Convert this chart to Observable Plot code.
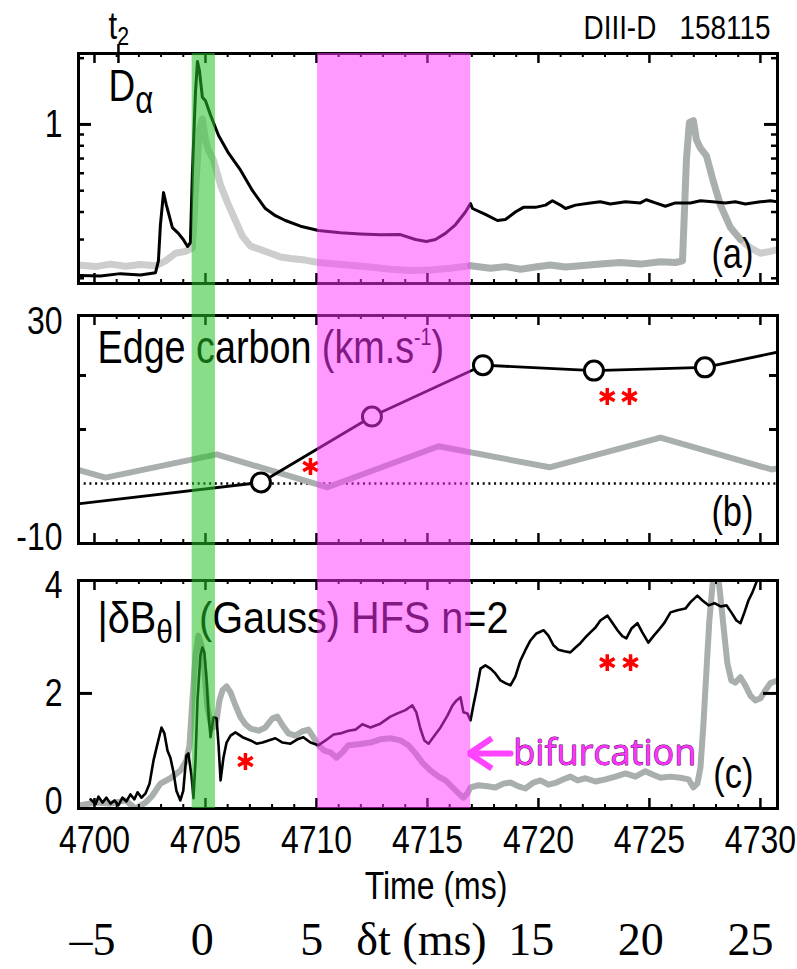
<!DOCTYPE html>
<html><head><meta charset="utf-8">
<script src="https://cdn.jsdelivr.net/npm/d3@7"></script>
<script src="https://cdn.jsdelivr.net/npm/@observablehq/plot@0.6"></script>
<style>
body{margin:0;background:#fff}
#fig{position:relative;width:797px;height:969px;background:#fff;overflow:hidden}
#fig svg{position:absolute;left:0;max-width:none;overflow:visible}
</style></head><body><div id="fig"></div>
<script>
// ---------- shared x ----------
const X_DOMAIN = [4699.28, 4730.77];
const timeTicks = [4700, 4705, 4710, 4715, 4720, 4725, 4730];
const dtTicks = [-5, 0, 5, 10, 15, 20, 25];
const dtLabels = ["\u20135", "0", "5", "\u03b4t (ms)", "15", "20", "25"];

// ---------- highlighted windows ----------
const bandStart = [4704.40, 4710.05];
const bandEnd = [4705.45, 4716.95];

// ---------- panel (a): D-alpha (log) ----------
const daT = [4699.37,4700.27,4701.17,4702.07,4702.75,4702.88,4702.97,4703.11,4703.24,4703.51,4703.78,4704.0,4704.19,4704.32,4704.41,4704.55,4704.64,4704.73,4704.86,4705.0,4705.23,4705.59,4706.04,4706.58,4707.12,4707.7,4708.15,4708.6,4709.28,4710.09,4711.08,4711.98,4712.88,4713.78,4714.46,4714.95,4715.36,4715.81,4716.26,4716.71,4716.94,4717.03,4717.61,4718.15,4718.51,4718.96,4719.32,4719.86,4720.32,4720.63,4720.99,4721.22,4721.67,4722.34,4722.79,4723.24,4723.92,4724.59,4724.86,4725.27,4725.72,4726.17,4726.85,4727.3,4727.84,4728.42,4728.87,4729.32,4730.0,4730.45,4730.77];
const daV = [0.206,0.205,0.21,0.207,0.212,0.24,0.35,0.49,0.43,0.34,0.32,0.30,0.279,0.29,0.6,1.4,1.93,1.75,1.33,1.28,1.1,0.89,0.74,0.62,0.5,0.415,0.385,0.366,0.345,0.33,0.322,0.318,0.315,0.316,0.30,0.294,0.30,0.32,0.35,0.40,0.437,0.415,0.39,0.366,0.37,0.40,0.42,0.42,0.43,0.45,0.43,0.415,0.43,0.44,0.445,0.435,0.445,0.44,0.455,0.44,0.425,0.44,0.44,0.45,0.445,0.44,0.445,0.435,0.445,0.45,0.445];
const daRefT = [4699.37,4700.05,4700.72,4701.4,4702.07,4702.75,4703.2,4703.65,4704.1,4704.41,4704.6,4704.73,4704.86,4705.0,4705.14,4705.36,4705.68,4706.04,4706.35,4706.67,4707.03,4707.48,4707.93,4708.38,4708.83,4709.5,4710.09,4710.86,4711.53,4712.43,4713.33,4714.23,4715.14,4716.04,4716.94,4717.84,4718.51,4719.19,4719.86,4720.54,4721.22,4721.89,4722.79,4723.69,4724.59,4725.5,4726.17,4726.49,4726.67,4726.8,4726.98,4727.12,4727.3,4727.57,4727.88,4728.2,4728.65,4729.1,4729.55,4730.0,4730.45,4730.77];
const daRefV = [0.229,0.226,0.232,0.227,0.231,0.228,0.24,0.26,0.265,0.275,0.6,0.95,1.06,0.85,0.76,0.69,0.53,0.43,0.366,0.31,0.28,0.27,0.26,0.25,0.246,0.242,0.236,0.232,0.229,0.225,0.22,0.217,0.218,0.222,0.228,0.222,0.226,0.22,0.225,0.23,0.225,0.228,0.232,0.236,0.232,0.238,0.236,0.24,0.7,1.02,1.04,0.85,0.78,0.72,0.55,0.43,0.34,0.30,0.275,0.26,0.265,0.27];
const daRefDarkFrom = 4716.94, daRefDarkTo = 4729.1;

// ---------- panel (b): edge carbon rotation ----------
const carbonT = [4697.5, 4707.5, 4712.5, 4717.5, 4722.5, 4727.5, 4732.5];
const carbonV = [-4.6, 0.2, 12.4, 21.9, 20.9, 21.5, 25.8];
const carbonRefT = [4695.5, 4700.5, 4705.5, 4710.5, 4715.5, 4720.5, 4725.5, 4730.5, 4735.5];
const carbonRefV = [6.9, 1.1, 5.4, -0.7, 6.9, 3.0, 8.5, 2.6, 6.0];
const starBT = [4709.73, 4723.1, 4724.1];
const starBV = [3.15, 16.1, 16.1];

// ---------- panel (c): |dB_theta| ----------
const dbT = [4699.82,4700.05,4700.18,4700.36,4700.54,4700.72,4700.9,4701.08,4701.26,4701.44,4701.62,4701.8,4701.94,4702.12,4702.3,4702.48,4702.66,4702.84,4703.02,4703.15,4703.29,4703.42,4703.56,4703.69,4703.87,4704.0,4704.14,4704.23,4704.37,4704.46,4704.55,4704.64,4704.77,4704.86,4704.95,4705.05,4705.14,4705.23,4705.36,4705.5,4705.59,4705.68,4705.81,4705.95,4706.13,4706.35,4706.67,4707.03,4707.3,4707.57,4707.84,4708.15,4708.47,4708.83,4709.14,4709.41,4709.73,4710.09,4710.41,4710.77,4711.08,4711.44,4711.76,4712.07,4712.43,4712.88,4713.33,4713.65,4714.01,4714.32,4714.5,4714.68,4714.86,4715.05,4715.32,4715.59,4715.9,4716.13,4716.31,4716.49,4716.62,4716.8,4716.94,4717.07,4717.21,4717.39,4717.61,4717.84,4718.06,4718.29,4718.51,4718.74,4718.96,4719.19,4719.41,4719.64,4719.91,4720.23,4720.45,4720.68,4720.9,4721.17,4721.44,4721.67,4721.89,4722.12,4722.34,4722.57,4722.79,4723.11,4723.33,4723.56,4723.78,4723.96,4724.19,4724.46,4724.68,4724.95,4725.18,4725.41,4725.68,4725.95,4726.26,4726.62,4726.85,4727.16,4727.39,4727.66,4727.93,4728.2,4728.47,4728.69,4728.92,4729.1,4729.28,4729.46,4729.64,4729.82,4730.0,4730.45];
const dbV = [0.04,-0.05,0.09,-0.02,0.07,-0.04,0.02,-0.07,0.07,0.0,0.13,0.04,0.17,0.07,0.15,0.33,0.76,1.07,1.37,1.26,0.94,0.81,0.54,0.2,0.02,0.2,0.85,0.89,0.48,0.06,0.76,1.87,2.7,2.85,2.76,2.24,1.6,1.19,1.56,1.54,1.04,0.39,0.81,1.09,1.22,1.28,1.19,1.13,1.07,1.09,1.13,1.17,1.09,1.07,1.15,1.19,1.09,1.04,1.13,1.24,1.26,1.31,1.33,1.43,1.37,1.44,1.57,1.63,1.69,1.78,1.65,1.35,1.13,1.07,1.22,1.37,1.59,1.78,1.87,1.93,1.65,1.63,1.5,1.78,2.06,2.46,2.52,2.46,2.37,2.24,2.19,2.15,2.31,2.61,2.8,2.98,3.11,3.17,3.07,2.89,2.81,2.78,2.76,2.85,2.93,3.04,3.13,3.22,3.35,3.44,3.31,3.17,3.06,3.02,3.2,3.3,3.13,2.94,3.06,3.17,3.31,3.5,3.54,3.57,3.69,3.81,3.72,3.63,3.67,3.61,3.63,3.5,3.35,3.3,3.5,3.72,3.87,4.06,4.2,4.55];
const dbRefT = [4699.37,4700.05,4700.72,4701.4,4701.85,4702.3,4702.61,4702.97,4703.42,4703.87,4704.14,4704.28,4704.41,4704.55,4704.68,4704.82,4704.95,4705.09,4705.23,4705.36,4705.5,4705.63,4705.77,4705.95,4706.13,4706.35,4706.58,4706.8,4707.03,4707.39,4707.7,4708.02,4708.24,4708.47,4708.74,4709.05,4709.37,4709.64,4709.86,4710.09,4710.36,4710.63,4710.9,4711.17,4711.44,4711.89,4712.43,4712.88,4713.33,4713.78,4714.14,4714.46,4714.77,4715.14,4715.5,4715.81,4716.13,4716.4,4716.62,4716.8,4716.94,4717.3,4717.7,4718.06,4718.42,4718.74,4719.1,4719.41,4719.77,4720.09,4720.45,4720.81,4721.13,4721.44,4721.76,4722.12,4722.57,4723.02,4723.47,4723.92,4724.37,4724.82,4725.14,4725.5,4725.95,4726.4,4726.76,4726.98,4727.16,4727.3,4727.43,4727.57,4727.7,4727.84,4727.97,4728.11,4728.24,4728.38,4728.51,4728.69,4728.87,4729.1,4729.32,4729.55,4729.77,4730.0,4730.23,4730.45,4730.77];
const dbRefV = [-0.07,-0.02,-0.04,0.02,-0.13,-0.02,0.11,0.33,0.43,0.57,0.76,1.04,1.87,2.7,3.07,2.89,2.43,1.74,1.46,1.37,1.5,1.87,2.06,2.13,2.02,1.78,1.56,1.43,1.35,1.31,1.37,1.54,1.57,1.41,1.26,1.22,1.3,1.33,1.19,1.04,0.94,0.91,0.81,0.91,1.04,1.06,1.09,1.15,1.17,1.13,1.04,0.89,0.72,0.57,0.46,0.39,0.26,0.15,0.07,0.15,0.26,0.3,0.28,0.26,0.33,0.35,0.28,0.24,0.35,0.39,0.31,0.35,0.41,0.46,0.39,0.43,0.37,0.41,0.46,0.52,0.46,0.56,0.5,0.44,0.46,0.44,0.41,0.26,0.33,0.63,1.41,2.43,3.35,4.0,4.28,4.13,3.63,3.07,2.56,2.24,2.2,2.3,2.15,1.96,1.87,1.91,2.06,2.19,2.24];
const starCT = [4706.8, 4723.1, 4724.15];
const starCV = [0.74, 2.57, 2.57];
// bifurcation arrow (tail -> tip) and its head wings
const arrowShaftT = [4718.74, 4717.0];
const arrowY = 0.89;
const arrowHeadT = [4717.9, 4716.88, 4717.9];
const arrowHeadV = [1.17, 0.89, 0.61];

// ---------- styling ----------
const W = 797, ML = 78, MR = 20;
const NARROW = "Liberation Sans, Arial, sans-serif";   // squeezed to a narrow face below
const NARROW_FACTOR = 0.82;
const SERIF = "'Liberation Serif','Times New Roman',serif";
const LIGHT_GREY = "#cdcdcd", DARK_GREY = "#a9afad";
const STYLE = {background: "none", overflow: "visible"};

const zip = (T, V) => T.map((t, i) => ({t, v: V[i]}));
const inX = d => d.t >= X_DOMAIN[0] && d.t <= X_DOMAIN[1];

function frameTicks(innerW, innerH, yMajor, yMinor, majLen, minLen) {
  const xMaj = timeTicks, xMin = d3.range(4700, 4731).filter(d => d % 5);
  return [
    Plot.tickX(xMaj, {x: d => d, insetBottom: innerH - 10, strokeWidth: 2.5}),
    Plot.tickX(xMaj, {x: d => d, insetTop: innerH - 10, strokeWidth: 2.5}),
    Plot.tickX(xMin, {x: d => d, insetBottom: innerH - 4, strokeWidth: 2}),
    Plot.tickX(xMin, {x: d => d, insetTop: innerH - 4, strokeWidth: 2}),
    Plot.tickY(yMajor, {y: d => d, insetRight: innerW - majLen, strokeWidth: 3}),
    Plot.tickY(yMajor, {y: d => d, insetLeft: innerW - majLen, strokeWidth: 3}),
    Plot.tickY(yMinor, {y: d => d, insetRight: innerW - minLen, strokeWidth: 2.5}),
    Plot.tickY(yMinor, {y: d => d, insetLeft: innerW - minLen, strokeWidth: 2.5}),
    Plot.frame({stroke: "#000", strokeWidth: 3})
  ];
}
function place(svg, top) { svg.style.top = top + "px"; return svg; }
function rich(svg, map) {
  svg.querySelectorAll("text").forEach(el => { const k = el.textContent; if (map[k]) el.innerHTML = map[k]; });
  return svg;
}
const innerW = W - ML - MR;
const fmt = d => String(d);

// ---------- panel a ----------
const daLine = zip(daT, daV);
const daRef = zip(daRefT, daRefV);
const daRefLight1 = daRef.filter(d => d.t <= daRefDarkFrom);
const daRefDark = daRef.filter(d => d.t >= daRefDarkFrom && d.t <= daRefDarkTo);
const daRefLight2 = daRef.filter(d => d.t >= daRefDarkTo);
const pa = Plot.plot({
  width: W, height: 300, marginTop: 53, marginBottom: 17, marginLeft: ML, marginRight: MR,
  x: {domain: X_DOMAIN, axis: null},
  y: {type: "log", domain: [0.1894, 2.10], axis: null},
  style: STYLE,
  marks: [
    Plot.line(daRefLight1, {x: "t", y: "v", stroke: LIGHT_GREY, strokeWidth: 7, clip: true}),
    Plot.line(daRefLight2, {x: "t", y: "v", stroke: LIGHT_GREY, strokeWidth: 7, clip: true}),
    Plot.line(daRefDark, {x: "t", y: "v", stroke: DARK_GREY, strokeWidth: 7, clip: true}),
    Plot.line(daLine, {x: "t", y: "v", stroke: "#000", strokeWidth: 3, clip: true}),
    ...frameTicks(innerW, 230, [1], [0.2,0.3,0.4,0.5,0.6,0.7,0.8,0.9,2], 13, 6),
    Plot.axisY([1], {anchor: "left", tickSize: 0, tickPadding: 16, tickFormat: () => "1", fontSize: 39, fontFamily: NARROW, label: null}),
    Plot.tickX([4701.08], {x: d => d, insetTop: -9, insetBottom: 220, strokeWidth: 2.5}),
    Plot.text(["t2"], {text: d => d, frameAnchor: "top-left", textAnchor: "start", lineAnchor: "bottom", dx: 30, dy: -15, fontSize: 38, fontFamily: NARROW}),
    Plot.text(["D\u03b1"], {text: d => d, frameAnchor: "top-left", textAnchor: "start", lineAnchor: "bottom", dx: 30, dy: 47, fontSize: 45, fontFamily: NARROW}),
    Plot.text(["DIII-D\u00a0\u00a0 158115"], {text: d => d, frameAnchor: "top-right", textAnchor: "end", lineAnchor: "bottom", dx: -7, dy: -15, fontSize: 34, fontFamily: NARROW}),
    Plot.text(["(a)"], {text: d => d, frameAnchor: "bottom-right", textAnchor: "end", lineAnchor: "bottom", dx: -24, dy: -16, fontSize: 42, fontFamily: NARROW})
  ]
});
rich(pa, {
  "t2": 't<tspan dy="6" font-size="26">2</tspan>',
  "D\u03b1": 'D<tspan dy="12" font-size="38">\u03b1</tspan>'
});

// ---------- panel b ----------
const carbon = zip(carbonT, carbonV);
const carbonRef = zip(carbonRefT, carbonRefV);
const pb = Plot.plot({
  width: W, height: 250, marginTop: 15, marginBottom: 7, marginLeft: ML, marginRight: MR,
  x: {domain: X_DOMAIN, axis: null},
  y: {domain: [-11.1, 31.1], axis: null},
  style: STYLE,
  marks: [
    Plot.ruleY([0], {stroke: "#000", strokeWidth: 2.5, strokeDasharray: "2,3.7"}),
    Plot.line(carbonRef, {x: "t", y: "v", stroke: DARK_GREY, strokeWidth: 6, clip: true}),
    Plot.line(carbon, {x: "t", y: "v", stroke: "#000", strokeWidth: 2.8, clip: true}),
    Plot.dot(carbon.filter(inX), {x: "t", y: "v", r: 9.5, fill: "#fff", stroke: "#000", strokeWidth: 3}),
    Plot.dot(zip(starBT, starBV), {x: "t", y: "v", symbol: "asterisk", r: 8, stroke: "#f00", strokeWidth: 3.5}),
    ...frameTicks(innerW, 228, [10, 20], [], 8, 0),
    Plot.axisY([30, -10], {anchor: "left", tickSize: 0, tickPadding: 16, tickFormat: fmt, fontSize: 39, fontFamily: NARROW, label: null}),
    Plot.text(["Edge carbon (km.s-1)"], {text: d => d, frameAnchor: "top-left", textAnchor: "start", lineAnchor: "bottom", dx: 19, dy: 47, fontSize: 46, fontFamily: NARROW}),
    Plot.text(["(b)"], {text: d => d, frameAnchor: "bottom-right", textAnchor: "end", lineAnchor: "bottom", dx: -24, dy: -18, fontSize: 42, fontFamily: NARROW})
  ]
});
rich(pb, {"Edge carbon (km.s-1)": 'Edge carbon (km.s<tspan dy="-18" font-size="24">-1</tspan><tspan dy="18">)</tspan>'});

// ---------- panel c ----------
const db = zip(dbT, dbV);
const dbRef = zip(dbRefT, dbRefV);
const pc = Plot.plot({
  width: W, height: 360, marginTop: 30, marginBottom: 102, marginLeft: ML, marginRight: MR,
  x: {domain: X_DOMAIN, axis: null},
  y: {domain: [-0.13, 4.09], axis: null},
  style: STYLE,
  marks: [
    Plot.line(dbRef, {x: "t", y: "v", stroke: DARK_GREY, strokeWidth: 6, clip: true}),
    Plot.line(db, {x: "t", y: "v", stroke: "#000", strokeWidth: 2.6, clip: true}),
    Plot.dot(zip(starCT, starCV), {x: "t", y: "v", symbol: "asterisk", r: 8, stroke: "#f00", strokeWidth: 3.5}),
    Plot.line(arrowShaftT.map(t => ({t, v: arrowY})), {x: "t", y: "v", stroke: "#ff44ff", strokeWidth: 6}),
    Plot.line(zip(arrowHeadT, arrowHeadV), {x: "t", y: "v", stroke: "#ff44ff", strokeWidth: 6, strokeLinejoin: "miter", strokeLinecap: "butt"}),
    Plot.text([{t: 4718.87, v: 0.67}], {x: "t", y: "v", text: () => "bifurcation", textAnchor: "start", lineAnchor: "bottom", fontSize: 36, fontFamily: "'Open Sans',sans-serif", fill: "#ff33ff", stroke: "#3a003a", strokeWidth: 0.9}),
    ...frameTicks(innerW, 228, [2], [], 14, 0),
    Plot.axisY([0, 2, 4], {anchor: "left", tickSize: 0, tickPadding: 16, tickFormat: fmt, fontSize: 39, fontFamily: NARROW, label: null}),
    Plot.axisX(timeTicks, {anchor: "bottom", tickSize: 0, tickPadding: 17, tickFormat: fmt, fontSize: 39, fontFamily: NARROW, label: null}),
    Plot.text(["Time (ms)"], {text: d => d, frameAnchor: "bottom", lineAnchor: "middle", dx: 8, dy: 78, fontSize: 39, fontFamily: NARROW}),
    Plot.text(["|\u03b4B\u03b8| (Gauss) HFS n=2"], {text: d => d, frameAnchor: "top-left", textAnchor: "start", lineAnchor: "bottom", dx: 19, dy: 52, fontSize: 45, fontFamily: NARROW}),
    Plot.text(["(c)"], {text: d => d, frameAnchor: "bottom-right", textAnchor: "end", lineAnchor: "bottom", dx: -24, dy: -21, fontSize: 42, fontFamily: NARROW})
  ]
});
rich(pc, {"|\u03b4B\u03b8| (Gauss) HFS n=2": '|\u03b4B<tspan dy="10" font-size="34">\u03b8</tspan><tspan dy="-10">|</tspan><tspan dx="18">(Gauss) HFS n=2</tspan>'});

// ---------- delta-t axis ----------
const pd = Plot.plot({
  width: W, height: 69, marginTop: 0, marginBottom: 0, marginLeft: 0, marginRight: 0,
  x: {domain: [-5, 25], range: [92, 750], axis: null},
  style: STYLE,
  marks: [
    Plot.text(dtTicks, {x: d => d, text: (d, i) => dtLabels[i], frameAnchor: "middle", lineAnchor: "middle", dy: 5, fontSize: 46, fontFamily: SERIF})
  ]
});

// ---------- translucent windows on top ----------
const bands = bandStart.map((s, i) => ({s, e: bandEnd[i]}));
const po = Plot.plot({
  width: W, height: 755, marginTop: 0, marginBottom: 0, marginLeft: ML, marginRight: MR,
  x: {domain: X_DOMAIN, axis: null},
  style: STYLE,
  marks: [
    Plot.rect([bands[0]], {x1: "s", x2: "e", fill: "#27c127", fillOpacity: 0.55}),
    Plot.rect([bands[1]], {x1: "s", x2: "e", fill: "#ff33ff", fillOpacity: 0.5})
  ]
});

const fig = document.getElementById("fig");
fig.append(place(pa, 0), place(pb, 300), place(pc, 550), place(pd, 900), place(po, 53));

// squeeze the Helvetica-like texts into a narrow face (the reference uses a condensed sans)
const targetWidths = {"|\u03b4B\u03b8|(Gauss) HFS n=2": 411};
[pa, pb, pc].forEach(svg => {
  svg.querySelectorAll("text").forEach(el => {
    const host = el.closest("[font-family]");
    if (!host || host.getAttribute("font-family") !== NARROW) return;
    const L = el.getComputedTextLength();
    if (L > 0) {
      const target = targetWidths[el.textContent] || L * NARROW_FACTOR;
      el.setAttribute("textLength", target.toFixed(1));
      el.setAttribute("lengthAdjust", "spacingAndGlyphs");
    }
  });
});
</script></body></html>
